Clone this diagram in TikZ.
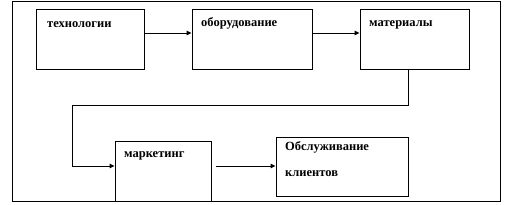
\documentclass[tikz,border=0pt]{standalone}
\usepackage{fontspec}
\setmainfont{Liberation Serif}
\usetikzlibrary{arrows.meta,calc}
\begin{document}
\begin{tikzpicture}[x=1pt,y=-1pt,
  box/.style={draw=black,line width=0.9pt,inner sep=0pt,minimum width=#1},
  lbl/.style={font=\bfseries\fontsize{12.5}{14}\selectfont,inner sep=0pt,anchor=base west},
  conn/.style={line width=0.9pt,-{Triangle[length=5pt,width=4.5pt]}}]
\useasboundingbox (0,0) rectangle (505,205);
\draw[line width=0.9pt] (12,1) rectangle (500,201);
\node[box=108pt,minimum height=60pt] (b1) at (90,39) {};
\node[box=120pt,minimum height=60pt] (b2) at (252,39) {};
\node[box=109pt,minimum height=60pt] (b3) at (414.5,39) {};
\node[box=96pt,minimum height=60pt] (b4) at (163,171) {};
\node[box=132pt,minimum height=59pt] (b5) at (342,166.5) {};
\node[lbl] (t1) at (47,28) {технологии};
\node[lbl] (t2) at (201,27) {оборудование};
\node[lbl] (t3) at (369,27) {материалы};
\node[lbl] (t4) at (124,158) {маркетинг};
\node[lbl] (t5a) at (285,151) {Обслуживание};
\node[lbl] (t5b) at (285,177) {клиентов};
\coordinate (c1) at (408,69);
\coordinate (c2) at (408,105);
\coordinate (c3) at (72,105);
\coordinate (c4) at (72,166);
\draw[conn] (b1.east |- 0,33) -- (b2.west |- 0,33);
\draw[conn] (b2.east |- 0,33) -- (b3.west |- 0,33);
\draw[conn] (c1) -- (c2) -- (c3) -- (c4) -- (b4.west |- c4);
\draw[conn,shorten <=5pt] (b4.east |- c4) -- (b5.west |- c4);
\end{tikzpicture}
\end{document}
